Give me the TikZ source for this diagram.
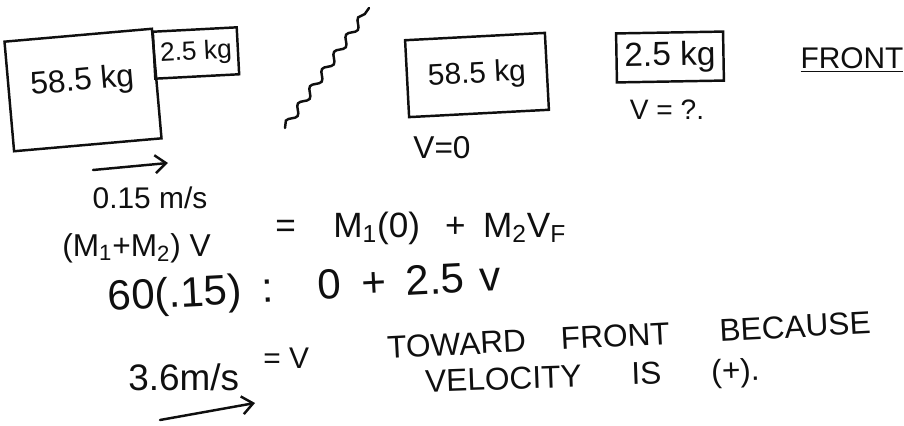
\documentclass[tikz,border=0pt]{standalone}
\usepackage{fontspec}
\setmainfont{Liberation Sans}
\usepackage{tikz}
\usetikzlibrary{arrows.meta,decorations.pathmorphing}
\definecolor{ink}{RGB}{15,15,15}

\begin{document}
\begin{tikzpicture}[x=0.02cm, y=-0.02cm,
    pen/.style={draw=ink, line width=1.4pt, line cap=round},
    massbox/.style={pen, inner sep=0pt},
    hand/.style={text=ink, inner sep=0pt, font=\fontsize{#1}{#1}\selectfont},
    >={Straight Barb[length=2.2mm,width=3.6mm]}]
  \useasboundingbox (0,0) rectangle (904,426);

  % before: blocks together
  \node[massbox, hand=18, minimum width=2.96cm, minimum height=2.2cm, text depth=0.45cm, rotate=5] (bigbox) at (83,90) {58.5 kg};
  \node[massbox, hand=15, minimum width=1.68cm, minimum height=0.94cm, rotate=3] (smallbox) at (196,53) {2.5 kg};
  \coordinate (pushtail) at (93,170);
  \coordinate (pushhead) at (168,163);
  \draw[pen, ->] (pushtail) -- (pushhead);
  \node[hand=17] (pushv) at (150,198) {0.15 m/s};

  % break between the two pictures
  \draw[pen, decorate, decoration={snake, amplitude=0.7mm, segment length=4.2mm}] (285,128) -- (369,8);

  % after: blocks apart
  \node[massbox, hand=17, minimum width=2.8cm, minimum height=1.54cm, rotate=3] (restbig) at (477,75) {58.5 kg};
  \node[hand=18] (restv) at (442,148) {V=0};
  \node[massbox, hand=19, minimum width=2.14cm, minimum height=0.98cm, rotate=1] (restsmall) at (670,57) {2.5 kg};
  \node[hand=16] (askv) at (667,110) {V = ?.};
  \node[hand=17] (front) at (852,60) {\underline{FRONT}};

  % momentum
  \node[hand=18, anchor=west] (lhs) at (62,248) {(M\textsubscript{1}+M\textsubscript{2}) V};
  \node[hand=20, anchor=west] (rhs) at (275,228) {=\hspace{0.75cm}M\textsubscript{1}(0)\hspace{0.5cm}+\hspace{0.35cm}M\textsubscript{2}V\textsubscript{F}};
  \node[hand=24, anchor=west, rotate=3] (numline) at (108,300) {60(.15)\hspace{0.4cm}:\hspace{0.9cm}0\hspace{0.4cm}+\hspace{0.4cm}2.5\hspace{0.3cm}v};
  \node[hand=21, anchor=west] (speed) at (128,377) {3.6m/s};
  \node[hand=17, anchor=west] (eqv) at (263,358) {= V};
  \coordinate (outtail) at (160,420);
  \coordinate (outhead) at (255,403);
  \draw[pen, ->] (outtail) -- (outhead);
  \node[hand=18, anchor=west, rotate=3] (toward) at (387,348) {TOWARD\hspace{0.7cm}FRONT\hspace{1cm}BECAUSE};
  \node[hand=18, anchor=west, rotate=2] (velocity) at (425,384) {VELOCITY\hspace{1cm}IS\hspace{1cm}(+).};
\end{tikzpicture}
\end{document}
